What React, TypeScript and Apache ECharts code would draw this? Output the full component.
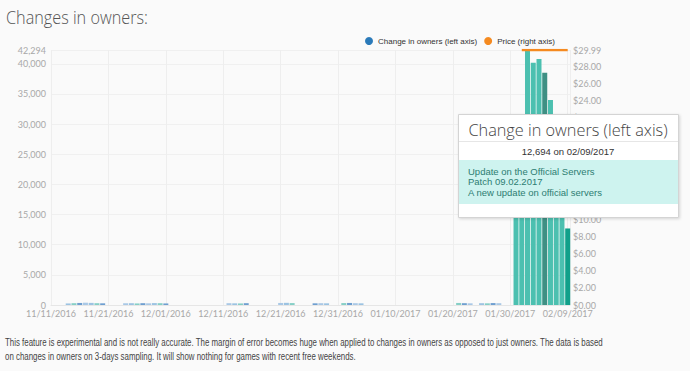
import React, { useEffect, useRef } from 'react';
import * as echarts from 'echarts';

const START_DATE = '11/11/2016';
const AXIS_END_DAY = 90.4;

const ownerDates = [
  '11/14/2016', '11/15/2016', '11/16/2016', '11/17/2016', '11/18/2016', '11/19/2016', '11/20/2016',
  '11/24/2016', '11/25/2016', '11/26/2016', '11/27/2016', '11/28/2016', '11/29/2016', '11/30/2016', '12/01/2016',
  '12/12/2016', '12/13/2016', '12/14/2016', '12/15/2016',
  '12/21/2016', '12/22/2016', '12/23/2016',
  '12/27/2016', '12/28/2016', '12/29/2016',
  '01/01/2017', '01/02/2017', '01/03/2017', '01/04/2017',
  '01/21/2017', '01/22/2017', '01/23/2017',
  '01/25/2017', '01/26/2017', '01/27/2017', '01/28/2017',
  '01/31/2017', '02/01/2017', '02/02/2017', '02/03/2017', '02/04/2017', '02/05/2017', '02/06/2017', '02/07/2017', '02/08/2017', '02/09/2017',
];
const ownerValues = [
  260, 300, 340, 380, 350, 300, 280,
  280, 300, 260, 300, 280, 320, 300, 260,
  300, 280, 260, 300,
  340, 360, 320,
  280, 300, 280,
  320, 340, 300, 280,
  340, 300, 280,
  300, 280, 320, 300,
  27500, 30200, 42294, 40200, 40800, 38500, 34000, 29000, 24500, 12694,
];

const priceDates = ['02/01/2017', '02/02/2017', '02/03/2017', '02/04/2017', '02/05/2017', '02/06/2017', '02/07/2017', '02/08/2017', '02/09/2017'];
const priceValues = [29.99, 29.99, 29.99, 29.99, 29.99, 29.99, 29.99, 29.99, 29.99];

const OWNERS_MAX = 42294;
const OWNERS_STEP = 5000;
const PRICE_MAX = 29.99;
const PRICE_STEP = 2;
const DAY_STEP = 10;

const markedDate = '02/05/2017';
const hoveredDate = '02/09/2017';

const eventLines = ['Update on the Official Servers', 'Patch 09.02.2017', 'A new update on official servers'];
const footerLines = [
  'This feature is experimental and is not really accurate. The margin of error becomes huge when applied to changes in owners as opposed to just owners. The data is based',
  'on changes in owners on 3-days sampling. It will show nothing for games with recent free weekends.',
];

const parseDate = (s: string) => {
  const [m, d, y] = s.split('/').map(Number);
  return Date.UTC(y, m - 1, d);
};
const T0 = parseDate(START_DATE);
const dayIndex = (s: string) => Math.round((parseDate(s) - T0) / 86400000);
const pad = (n: number) => (n < 10 ? '0' + n : '' + n);
const fmtDay = (v: number) => {
  const dt = new Date(T0 + Math.round(v) * 86400000);
  return pad(dt.getUTCMonth() + 1) + '/' + pad(dt.getUTCDate()) + '/' + dt.getUTCFullYear();
};

const smallColors = ['#9cc3e2', '#86cfc6', '#6f9fd0', '#a9c8e6'];

export default function App() {
  const ref = useRef<HTMLDivElement>(null);
  useEffect(() => {
    if (!ref.current) return;
    const chart = echarts.init(ref.current, null, { renderer: 'svg' });
    const ownersData = ownerDates.map((d, i) => [dayIndex(d), ownerValues[i]]);
    const priceData = priceDates.map((d, i) => [dayIndex(d), priceValues[i]]);
    const hoveredIdx = ownerDates.indexOf(hoveredDate);
    const labelFont = { fontFamily: 'Lato', fontSize: 9, color: '#a8a8a8' };
    const TZ = 100;
    chart.setOption({
      animation: false,
      backgroundColor: '#fafafa',
      grid: { left: 51, right: 120, top: 50, bottom: 66 },
      legend: {
        left: 365,
        top: 37,
        padding: 0,
        itemWidth: 8,
        itemHeight: 8,
        itemGap: 7,
        icon: 'circle',
        textStyle: { fontFamily: 'Liberation Sans', fontSize: 8, color: '#333' },
        data: [
          { name: 'Change in owners (left axis)', itemStyle: { color: '#2a7ab9' } },
          { name: 'Price (right axis)', itemStyle: { color: '#f58a20' } },
        ],
      },
      xAxis: {
        type: 'value',
        min: 0,
        max: AXIS_END_DAY,
        interval: DAY_STEP,
        axisLine: { show: true, lineStyle: { color: '#e6e6e6' } },
        axisTick: { show: false },
        axisLabel: { ...labelFont, margin: 4, showMaxLabel: false, formatter: (v: number) => fmtDay(v) },
        splitLine: { show: true, lineStyle: { color: '#eeeeee' } },
      },
      yAxis: [
        {
          type: 'value',
          min: 0,
          max: OWNERS_MAX,
          interval: OWNERS_STEP,
          axisLine: { show: false },
          axisTick: { show: false },
          axisLabel: { ...labelFont, margin: 5, formatter: (v: number) => v.toLocaleString('en-US') },
          splitLine: { show: true, lineStyle: { color: '#f0f0f0' } },
        },
        {
          type: 'value',
          min: 0,
          max: PRICE_MAX,
          interval: PRICE_STEP,
          axisLine: { show: false },
          axisTick: { show: false },
          axisLabel: { ...labelFont, margin: 3, formatter: (v: number) => '$' + v.toFixed(2) },
          splitLine: { show: false },
        },
      ],
      series: [
        {
          name: 'Change in owners (left axis)',
          type: 'bar',
          yAxisIndex: 0,
          barWidth: 5,
          data: ownersData,
          itemStyle: {
            color: (p: any) => {
              const d = ownerDates[p.dataIndex];
              if (p.dataIndex === hoveredIdx) return '#11a08a';
              if (d === markedDate) return '#3f9084';
              if (ownerValues[p.dataIndex] > 5000) return '#4cc0b0';
              return smallColors[p.dataIndex % smallColors.length];
            },
          },
        },
        {
          name: 'Price (right axis)',
          type: 'line',
          yAxisIndex: 1,
          data: priceData,
          showSymbol: false,
          symbol: 'none',
          lineStyle: { color: '#f58a20', width: 2.5 },
          itemStyle: { color: '#f58a20' },
          z: 5,
        },
      ],
      graphic: {
        elements: [
          {
            type: 'group',
            x: 6,
            y: 0,
            scaleX: 0.855,
            children: [
              {
                type: 'text',
                x: 0,
                y: 16,
                style: { text: 'Changes in owners:', verticalAlign: 'middle', fontFamily: 'Open Sans', fontWeight: 300, fontSize: 19, fill: '#555' },
              },
            ],
          },
          {
            type: 'rect',
            z: TZ,
            shape: { x: 458.5, y: 114.5, width: 220, height: 103 },
            style: { fill: '#ffffff', stroke: '#d4d4d4', lineWidth: 1, shadowBlur: 3, shadowOffsetX: 1, shadowOffsetY: 1, shadowColor: 'rgba(0,0,0,0.15)' },
          },
          {
            type: 'text',
            z: TZ + 1,
            x: 568,
            y: 130,
            style: { text: 'Change in owners (left axis)', align: 'center', verticalAlign: 'middle', fontFamily: 'Open Sans', fontWeight: 300, fontSize: 16.3, fill: '#444' },
          },
          { type: 'line', z: TZ + 1, shape: { x1: 459, y1: 141.5, x2: 678, y2: 141.5 }, style: { stroke: '#e6e6e6', lineWidth: 1 } },
          {
            type: 'text',
            z: TZ + 1,
            x: 568,
            y: 151,
            style: {
              text: ownerValues[hoveredIdx].toLocaleString('en-US') + ' on ' + hoveredDate,
              align: 'center', verticalAlign: 'middle', fontFamily: 'Liberation Sans', fontSize: 9.5, fill: '#333',
            },
          },
          { type: 'rect', z: TZ + 1, shape: { x: 459, y: 160, width: 219, height: 44 }, style: { fill: '#cef3ef' } },
          ...eventLines.map((t, i) => ({
            type: 'text',
            z: TZ + 2,
            x: 468,
            y: 171 + i * 10.5,
            style: { text: t, verticalAlign: 'middle', fontFamily: 'Liberation Sans', fontSize: 9.5, fill: '#2d7d72' },
          })),
          {
            type: 'group',
            x: 5,
            y: 0,
            scaleX: 0.752,
            children: footerLines.map((t, i) => ({
              type: 'text',
              x: 0,
              y: 343 + i * 14,
              style: { text: t, verticalAlign: 'middle', fontFamily: 'Liberation Sans', fontSize: 10.5, fill: '#444' },
            })),
          },
        ],
      },
    });
    return () => chart.dispose();
  }, []);
  return <div ref={ref} style={{ position: 'fixed', left: 0, top: 0, width: 690, height: 371 }} />;
}
